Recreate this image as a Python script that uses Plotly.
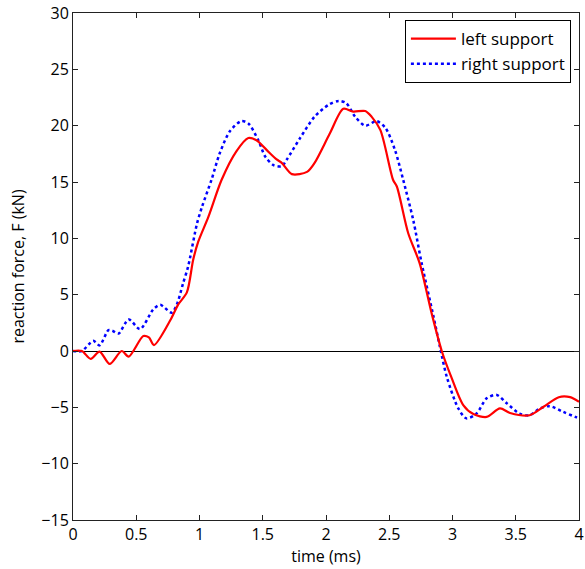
import plotly.graph_objects as go

# left support (red, solid)
left_t = [0.0, 0.07, 0.14, 0.21, 0.29, 0.385, 0.44, 0.556, 0.6, 0.64, 0.77, 0.83, 0.9, 0.95, 0.99,
          1.07, 1.175, 1.29, 1.386, 1.45, 1.53, 1.61, 1.65, 1.73, 1.85, 1.91, 2.03, 2.137, 2.215,
          2.31, 2.36, 2.43, 2.53, 2.56, 2.65, 2.74, 2.835, 2.915, 2.99, 3.085, 3.165, 3.27, 3.375,
          3.455, 3.61, 3.72, 3.84, 3.93, 4.0]
left_f = [0.0, 0.0, -0.7, -0.05, -1.15, 0.0, -0.5, 1.33, 1.2, 0.53, 2.75, 4.1, 5.2, 8.1, 9.7,
          11.9, 15.2, 17.7, 18.9, 18.7, 17.85, 17.0, 16.7, 15.7, 15.9, 16.7, 19.3, 21.5, 21.25,
          21.3, 20.8, 19.6, 15.2, 14.6, 10.45, 7.8, 3.35, 0.0, -2.3, -4.8, -5.6, -5.85, -5.1,
          -5.5, -5.7, -4.95, -4.1, -4.1, -4.5]

# right support (blue, dotted)
right_t = [0.0, 0.07, 0.16, 0.21, 0.28, 0.31, 0.36, 0.44, 0.53, 0.635, 0.69, 0.78, 0.82, 0.87,
           0.91, 0.98, 1.02, 1.095, 1.16, 1.24, 1.33, 1.386, 1.465, 1.52, 1.585, 1.65, 1.69,
           1.795, 1.91, 2.02, 2.10, 2.16, 2.23, 2.31, 2.40, 2.47, 2.545, 2.61, 2.69, 2.756,
           2.85, 2.9, 2.955, 3.046, 3.11, 3.19, 3.27, 3.35, 3.43, 3.53, 3.61, 3.69, 3.77,
           3.875, 3.97, 4.0]
right_f = [0.0, 0.0, 0.9, 0.5, 1.85, 1.8, 1.55, 2.8, 1.95, 3.7, 4.1, 3.4, 4.1, 6.0,
           7.5, 11.3, 12.8, 15.2, 17.55, 19.5, 20.4, 20.2, 18.7, 17.25, 16.5, 16.4, 17.0,
           18.9, 20.8, 21.85, 22.2, 22.0, 20.8, 20.0, 20.4, 19.8, 17.85, 15.2, 11.6, 7.8,
           3.05, 0.4, -2.3, -5.1, -5.98, -5.55, -4.2, -3.9, -4.65, -5.55, -5.7, -5.1, -4.9,
           -5.4, -5.85, -6.0]

x_ticks = [0, 0.5, 1, 1.5, 2, 2.5, 3, 3.5, 4]
x_tick_labels = ["0", "0.5", "1", "1.5", "2", "2.5", "3", "3.5", "4"]
y_ticks = [-15, -10, -5, 0, 5, 10, 15, 20, 25, 30]
y_tick_labels = ["\u221215", "\u221210", "\u22125", "0", "5", "10", "15", "20", "25", "30"]

FONT = "Open Sans"

fig = go.Figure()
fig.add_trace(go.Scatter(x=right_t, y=right_f, mode="lines", name="right support",
                         line=dict(color="#0000ff", width=2.5, dash="dot", shape="spline", smoothing=0.8)))
fig.add_trace(go.Scatter(x=left_t, y=left_f, mode="lines", name="left support",
                         line=dict(color="#ff0000", width=2.2, shape="spline", smoothing=0.8)))

axis_common = dict(showgrid=False, showline=True, mirror="ticks", linecolor="#222222", linewidth=1,
                   ticks="inside", ticklen=5, tickcolor="#222222", automargin=False,
                   ticklabeloverflow="allow",
                   tickfont=dict(family=FONT, size=16, color="black"))

fig.update_layout(
    width=585, height=569,
    margin=dict(l=73, r=6, t=13, b=49),
    paper_bgcolor="white", plot_bgcolor="white",
    font=dict(family=FONT, size=16, color="black"),
    xaxis=dict(range=[0, 4], tickvals=x_ticks, ticktext=x_tick_labels, zeroline=False,
               title=dict(text="time (ms)", standoff=2, font=dict(family=FONT, size=16)),
               **axis_common),
    yaxis=dict(range=[-15, 30], tickvals=y_ticks, ticktext=y_tick_labels,
               zeroline=True, zerolinecolor="black", zerolinewidth=1,
               title=dict(text="reaction force, F (kN)", standoff=12, font=dict(family=FONT, size=16)),
               **axis_common),
    legend=dict(x=0.984, y=0.986, xanchor="right", yanchor="top", traceorder="reversed",
                bgcolor="white", bordercolor="black", borderwidth=1, itemwidth=45,
                font=dict(family=FONT, size=17), tracegroupgap=0),
    showlegend=True,
)

fig.write_html("out.html", config={"displayModeBar": False},
               post_script="document.body.style.margin='0px';document.body.style.overflow='hidden';")
